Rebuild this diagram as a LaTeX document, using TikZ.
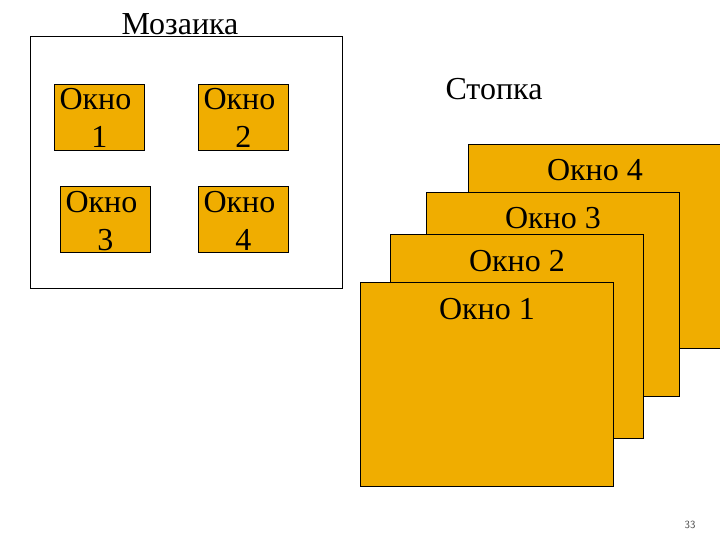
\documentclass[tikz,border=0pt]{standalone}
\usepackage{fontspec}
\setmainfont{Liberation Serif}
\usetikzlibrary{calc}
\definecolor{winor}{RGB}{240,173,0}
\definecolor{pgnum}{RGB}{70,70,70}
\tikzset{
  win/.style={draw=black, fill=winor, line width=0.8pt, anchor=north west, inner sep=0pt, minimum width=253pt, minimum height=204pt},
  tile/.style={draw=black, fill=winor, line width=0.8pt, anchor=north west, inner sep=0pt, minimum width=90pt, minimum height=66pt},
  frame/.style={draw=black, line width=0.8pt, anchor=north west, inner sep=0pt, minimum width=312pt, minimum height=252pt},
  lbl/.style={font=\fontsize{32}{38}\selectfont, anchor=base, inner sep=0pt}
}
\begin{document}
\begin{tikzpicture}[x=1pt,y=-1pt]
\useasboundingbox (0,0) rectangle (720,540);
% Mosaic
\node[frame] (mos) at (30,36) {};
\node[lbl] (mostitle) at (180,35) {Мозаика};
\node[tile] (t1) at (54,84) {};
\node[tile] (t2) at (198,84) {};
\node[tile] (t3) at (60,186) {};
\node[tile] (t4) at (198,186) {};
\foreach \t/\n in {t1/1,t2/2,t3/3,t4/4}{
  \node[lbl] (\t a) at ($(\t.north)+(-4,26)$) {Окно};
  \node[lbl] (\t b) at ($(\t.north)+(0,64)$) {\n};
}
% Stack
\node[lbl] (stitle) at (494,100) {Стопка};
\node[win] (w4) at (468,144) {};
\node[lbl] (w4l) at ($(w4.north)+(0,37)$) {Окно 4};
\node[win] (w3) at (426,192) {};
\node[lbl] (w3l) at ($(w3.north)+(0,37)$) {Окно 3};
\node[win] (w2) at (390,234) {};
\node[lbl] (w2l) at ($(w2.north)+(0,37)$) {Окно 2};
\node[win] (w1) at (360,282) {};
\node[lbl] (w1l) at ($(w1.north)+(0,37)$) {Окно 1};
% page number
\node[font=\sffamily\fontsize{11}{13}\selectfont, text=pgnum, anchor=base, inner sep=0pt] (pn) at (690,528) {33};
\end{tikzpicture}
\end{document}
